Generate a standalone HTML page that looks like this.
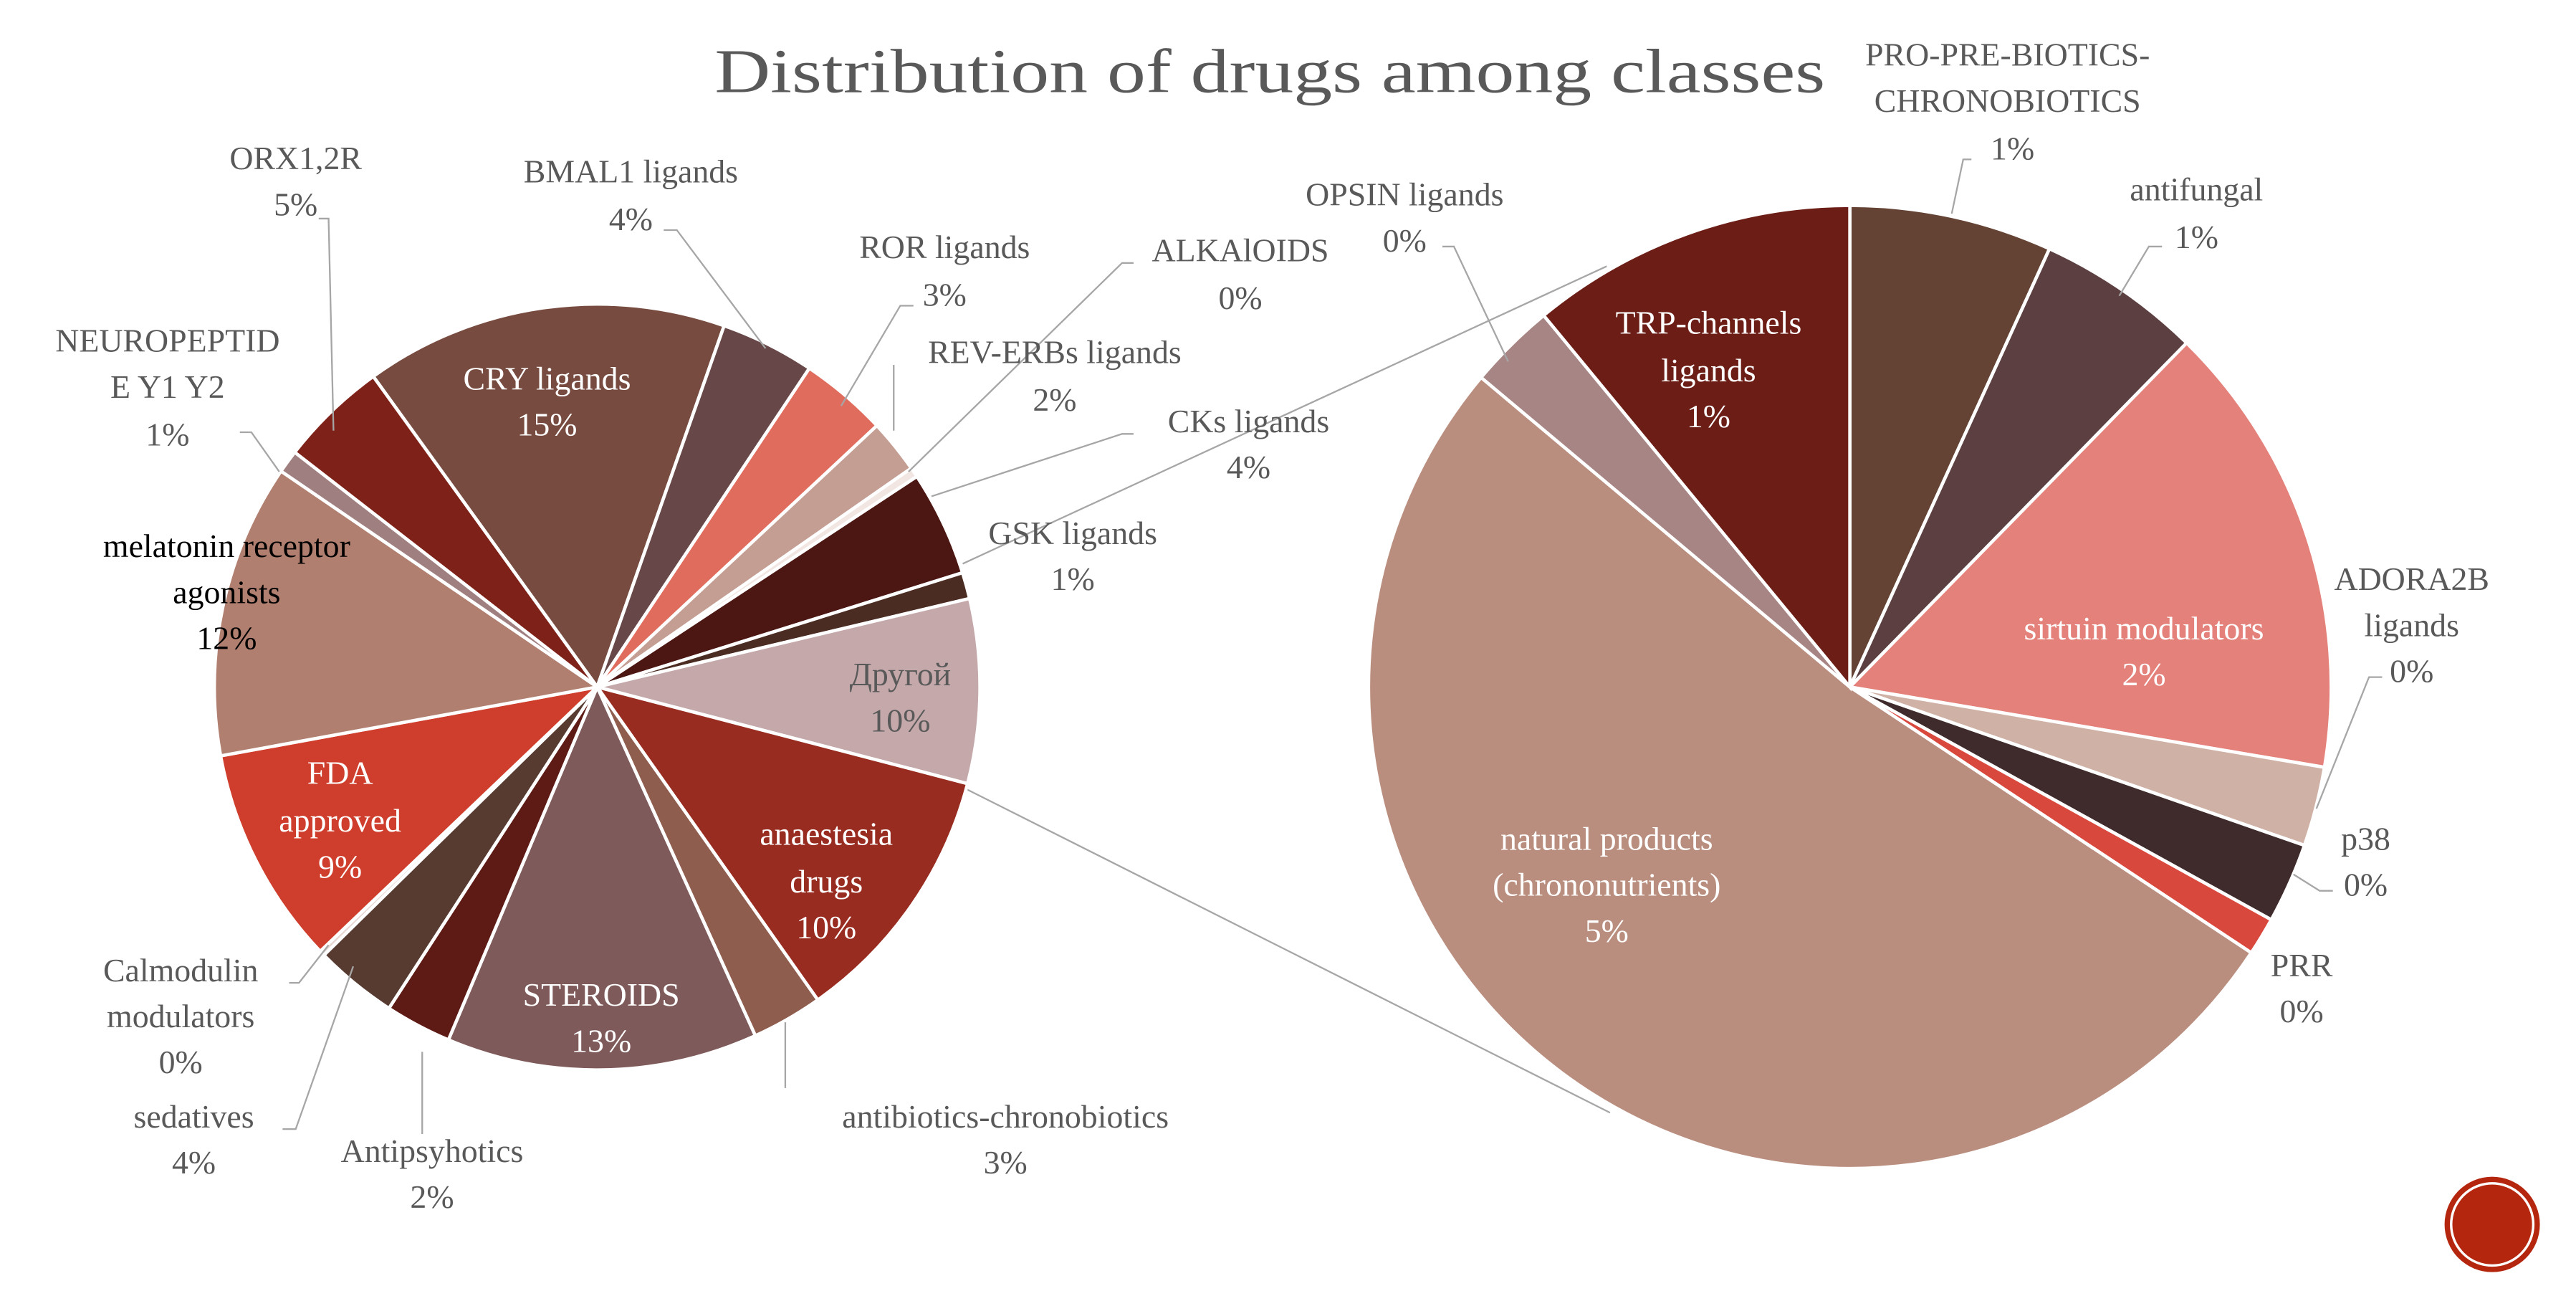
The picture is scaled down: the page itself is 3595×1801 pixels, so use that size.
<!DOCTYPE html>
<html><head><meta charset="utf-8">
<style>
html,body{margin:0;padding:0;background:#fff;}
svg{display:block;}
text{font-family:"Liberation Serif",serif;}
</style></head>
<body>
<svg id="chart" width="3595" height="1801" viewBox="0 0 1568 785.5" preserveAspectRatio="none" xmlns="http://www.w3.org/2000/svg">
<rect width="1568" height="785.5" fill="#fff"/>
<text x="773" y="56" text-anchor="middle" font-size="38" fill="#595959" textLength="676" lengthAdjust="spacingAndGlyphs">Distribution of drugs among classes</text>
<g id="connectors" stroke="#a6a6a6" stroke-width="1" fill="none">
<line x1="586" y1="343" x2="978" y2="162"/>
<line x1="584" y1="478" x2="980" y2="677"/>
</g>
<g id="leftPie"></g>
<g id="rightPie"></g>
<g id="leaders" stroke="#a6a6a6" stroke-width="1" fill="none">
<polyline points="194,133 200,133 203,262"/>
<polyline points="404,140 412,140 466,212"/>
<polyline points="556,186 548,186 512,247"/>
<polyline points="690,160 683,160 553,287"/>
<polyline points="544,222 544,262"/>
<polyline points="146,263 153,263 170,287"/>
<polyline points="690,264 683,264 567,302"/>
<polyline points="176,598 182,598 200,575"/>
<polyline points="172,687 180,687 215,588"/>
<polyline points="257,690 257,640"/>
<polyline points="478,662 478,622"/>
<polyline points="878,150 885,150 918,220"/>
<polyline points="1200,97 1195,97 1188,130"/>
<polyline points="1316,150 1308,150 1290,180"/>
<polyline points="1450,412 1442,412 1410,492"/>
<polyline points="1420,542 1412,542 1396,532"/>
</g>
<g id="labels" font-size="20" fill="#595959" text-anchor="middle">
<text><tspan x="1222" y="40">PRO-PRE-BIOTICS-</tspan><tspan x="1222" y="68">CHRONOBIOTICS</tspan><tspan x="1225" y="97">1%</tspan></text>
<text><tspan x="1337" y="122">antifungal</tspan><tspan x="1337" y="151">1%</tspan></text>
<text><tspan x="855" y="125">OPSIN ligands</tspan><tspan x="855" y="153">0%</tspan></text>
<text><tspan x="180" y="103">ORX1,2R</tspan><tspan x="180" y="131">5%</tspan></text>
<text><tspan x="384" y="111">BMAL1 ligands</tspan><tspan x="384" y="140">4%</tspan></text>
<text><tspan x="575" y="157">ROR ligands</tspan><tspan x="575" y="186">3%</tspan></text>
<text><tspan x="755" y="159">ALKAlOIDS</tspan><tspan x="755" y="188">0%</tspan></text>
<text><tspan x="642" y="221">REV-ERBs ligands</tspan><tspan x="642" y="250">2%</tspan></text>
<text><tspan x="102" y="214">NEUROPEPTID</tspan><tspan x="102" y="242">E Y1 Y2</tspan><tspan x="102" y="271">1%</tspan></text>
<text><tspan x="760" y="263">CKs ligands</tspan><tspan x="760" y="291">4%</tspan></text>
<text><tspan x="653" y="331">GSK ligands</tspan><tspan x="653" y="359">1%</tspan></text>
<text fill="#fff"><tspan x="333" y="237">CRY ligands</tspan><tspan x="333" y="265">15%</tspan></text>
<text fill="#000"><tspan x="138" y="339">melatonin receptor</tspan><tspan x="138" y="367">agonists</tspan><tspan x="138" y="395">12%</tspan></text>
<text><tspan x="548" y="417">Другой</tspan><tspan x="548" y="445">10%</tspan></text>
<text fill="#fff"><tspan x="207" y="477">FDA</tspan><tspan x="207" y="506">approved</tspan><tspan x="207" y="534">9%</tspan></text>
<text fill="#fff"><tspan x="503" y="514">anaestesia</tspan><tspan x="503" y="543">drugs</tspan><tspan x="503" y="571">10%</tspan></text>
<text><tspan x="110" y="597">Calmodulin</tspan><tspan x="110" y="625">modulators</tspan><tspan x="110" y="653">0%</tspan></text>
<text fill="#fff"><tspan x="366" y="612">STEROIDS</tspan><tspan x="366" y="640">13%</tspan></text>
<text><tspan x="612" y="686">antibiotics-chronobiotics</tspan><tspan x="612" y="714">3%</tspan></text>
<text><tspan x="118" y="686">sedatives</tspan><tspan x="118" y="714">4%</tspan></text>
<text><tspan x="263" y="707">Antipsyhotics</tspan><tspan x="263" y="735">2%</tspan></text>
<text fill="#fff"><tspan x="1040" y="203">TRP-channels</tspan><tspan x="1040" y="232">ligands</tspan><tspan x="1040" y="260">1%</tspan></text>
<text><tspan x="1468" y="359">ADORA2B</tspan><tspan x="1468" y="387">ligands</tspan><tspan x="1468" y="415">0%</tspan></text>
<text fill="#fff"><tspan x="1305" y="389">sirtuin modulators</tspan><tspan x="1305" y="417">2%</tspan></text>
<text><tspan x="1440" y="517">p38</tspan><tspan x="1440" y="545">0%</tspan></text>
<text><tspan x="1401" y="594">PRR</tspan><tspan x="1401" y="622">0%</tspan></text>
<text fill="#fff"><tspan x="978" y="517">natural products</tspan><tspan x="978" y="545">(chrononutrients)</tspan><tspan x="978" y="573">5%</tspan></text>
</g>
<g>
<circle cx="1517" cy="745" r="29" fill="#b5260f"/>
<circle cx="1517" cy="745" r="25" fill="none" stroke="#fff" stroke-width="1.5"/>
</g>
</svg>
<script>
const leftCategories = ["CRY ligands","BMAL1 ligands","ROR ligands","REV-ERBs ligands","ALKAlOIDS","CKs ligands","GSK ligands","Другой","anaestesia drugs","antibiotics-chronobiotics","STEROIDS","Antipsyhotics","sedatives","Calmodulin modulators","FDA approved","melatonin receptor agonists","NEUROPEPTIDE Y1 Y2","ORX1,2R"];
const leftValues = [55.2,14.3,13.3,8.2,1.5,16,4,28,40.2,10.8,47.3,10.1,12.6,0.8,33.3,44.7,3.5,16.4];
const leftColors = ["#774b3f","#674747","#e06c5e","#c49e93","#f2e6e2","#4c1713","#4b2c22","#c4a8aa","#982c20","#8f5d4e","#7f5a5a","#5e1b15","#573a30","#e8d8d4","#cf3e2c","#b07f6f","#a07f80","#7e2219"];
const rightCategories = ["PRO-PRE-BIOTICS-CHRONOBIOTICS","antifungal","sirtuin modulators","ADORA2B ligands","p38","PRR","natural products (chrononutrients)","OPSIN ligands","TRP-channels ligands"];
const rightValues = [24.5,19.9,55.2,9.6,9.7,4.6,186.5,10.5,39.5];
const rightColors = ["#644335","#5c3f40","#e3817a","#cfb1a6","#3f2b2b","#d9483d","#b98e7e","#a88585","#6b1d16"];

function drawPie(g, cats, vals, cols, cx, cy, r, startDeg){
  const NS="http://www.w3.org/2000/svg";
  const total = vals.reduce((a,b)=>a+b,0);
  let a = startDeg;
  vals.forEach((v,i)=>{
    const sweep = v/total*360;
    const a0=(a-90)*Math.PI/180, a1=(a+sweep-90)*Math.PI/180;
    const x0=cx+r*Math.cos(a0), y0=cy+r*Math.sin(a0);
    const x1=cx+r*Math.cos(a1), y1=cy+r*Math.sin(a1);
    const p=document.createElementNS(NS,"path");
    p.setAttribute("d",`M${cx},${cy} L${x0},${y0} A${r},${r} 0 ${sweep>180?1:0} 1 ${x1},${y1} Z`);
    p.setAttribute("fill",cols[i]);
    p.setAttribute("stroke","#fff");
    p.setAttribute("stroke-width","2");
    
    
    g.appendChild(p);
    a += sweep;
  });
}
drawPie(document.getElementById("leftPie"), leftCategories, leftValues, leftColors, 363.5, 418, 233, -35.8);
drawPie(document.getElementById("rightPie"), rightCategories, rightValues, rightColors, 1126, 418, 293, 0);
</script>
</body></html>
